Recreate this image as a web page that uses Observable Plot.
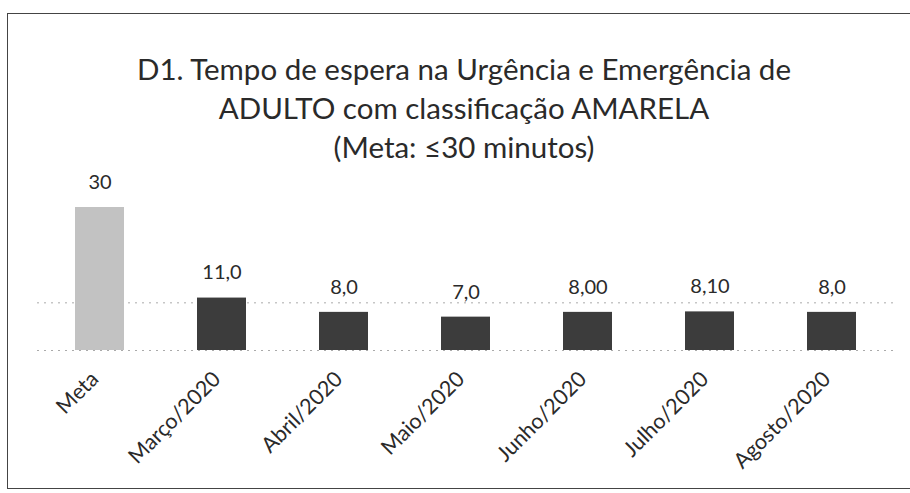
<!DOCTYPE html>
<html>
<head>
<meta charset="utf-8">
<script src="https://cdn.jsdelivr.net/npm/d3@7"></script>
<script src="https://cdn.jsdelivr.net/npm/@observablehq/plot@0.6"></script>
<style>
  html, body { margin: 0; padding: 0; background: #fff; }
  #page { position: relative; width: 910px; height: 493px; overflow: hidden; background: #fff; font-family: Lato, "Open Sans", sans-serif; }
  #frame { position: absolute; left: 7px; top: 13px; width: 920px; height: 476px; border: 1.5px solid #444; box-sizing: border-box; }
  #title { position: absolute; left: 0; top: 49px; width: 928px; text-align: center; font-size: 29.5px; line-height: 39px; color: #2a2a2a; }
  #chart { position: absolute; left: 0; top: 170px; }
</style>
</head>
<body>
<div id="page">
  <div id="frame"></div>
  <div id="title">D1. Tempo de espera na Urgência e Emergência de<br>ADULTO com classificação AMARELA<br>(Meta: ≤30 minutos)</div>
  <div id="chart"></div>
</div>
<script>
const categories = ["Meta", "Março/2020", "Abril/2020", "Maio/2020", "Junho/2020", "Julho/2020", "Agosto/2020"];
const values = [30, 11.0, 8.0, 7.0, 8.00, 8.10, 8.0];
const valueLabels = ["30", "11,0", "8,0", "7,0", "8,00", "8,10", "8,0"];
const gridValues = [0, 10];

const data = categories.map((c, i) => ({category: c, value: values[i], label: valueLabels[i]}));

const plot = Plot.plot({
  width: 910,
  height: 323,
  marginLeft: 37,
  marginRight: 17,
  marginTop: 37,
  marginBottom: 143,
  style: {fontFamily: "Lato, 'Open Sans', sans-serif", color: "#2a2a2a", background: "transparent"},
  x: {domain: categories, paddingInner: 0.6, paddingOuter: 0.3, label: null},
  y: {domain: [0, 30], axis: null},
  marks: [
    Plot.ruleY(gridValues, {stroke: "#aaa", strokeDasharray: "2,5", strokeWidth: 1}),
    Plot.barY(data, {x: "category", y: "value", fill: d => d.category === "Meta" ? "#c2c2c2" : "#3c3c3c"}),
    Plot.text(data, {x: "category", y: "value", text: "label", dy: -25, fontSize: 20, fill: "#2a2a2a"}),
    Plot.axisX({tickSize: 0, tickPadding: 25, tickRotate: -45, fontSize: 21.5, dx: -5, label: null, fill: "#2a2a2a"})
  ]
});
document.getElementById("chart").appendChild(plot);
</script>
</body>
</html>
